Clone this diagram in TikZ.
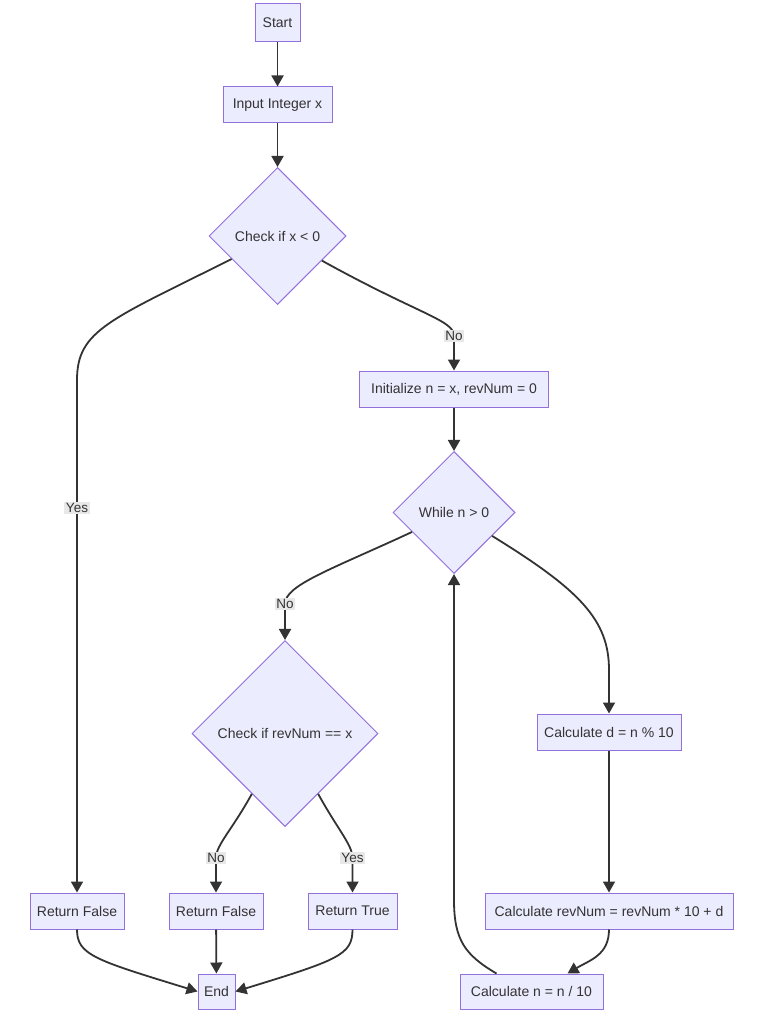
\documentclass[tikz,border=0pt]{standalone}
\usepackage{fontspec}
\setmainfont{Liberation Sans}
\usetikzlibrary{shapes.geometric, arrows.meta}
\definecolor{boxfill}{HTML}{ECECFF}
\definecolor{boxline}{HTML}{9370DB}
\definecolor{linegray}{HTML}{333333}
\definecolor{labelbg}{HTML}{E8E8E8}
\tikzstyle{process} = [
    rectangle, 
    minimum height=36pt, 
    inner xsep=4pt,
    text centered, 
    draw=boxline, 
    fill=boxfill,
    line width=1pt,
    text=linegray,
    font=\fontsize{14}{16}\selectfont
]
\tikzstyle{decision} = [
    diamond, 
    aspect=1,
    inner sep=0pt,
    text centered, 
    draw=boxline, 
    fill=boxfill,
    line width=1pt,
    text=linegray,
    font=\fontsize{14}{16}\selectfont
]
\tikzstyle{arrow} = [
    line width=1.8pt, 
    draw=linegray,
    -{Triangle[length=11pt, width=12pt]}
]
\tikzstyle{edgelabel} = [
    fill=labelbg, 
    text=linegray,
    inner sep=1.5pt,
    font=\fontsize{13.5}{15}\selectfont
]

\begin{document}
\begin{tikzpicture}[x=1pt, y=-1pt]
        \useasboundingbox[fill=white] (0,0) rectangle (768,1016);
        \node (start) [process, minimum width=45pt, minimum height=38pt] at (277.5,23) {Start};
        \node (input) [process, minimum width=109pt] at (277.5,105) {Input Integer x};
        \node (chk) [decision, minimum width=137pt, minimum height=137pt] at (277.5,236) {Check if x < 0};
        \node (init) [process, minimum width=189pt] at (454,389) {Initialize n = x, revNum = 0};
        \node (while) [decision, minimum width=122pt, minimum height=122pt] at (454,512.5) {While n > 0};
        \node (chkrev) [decision, minimum width=186pt, minimum height=186pt] at (285,733.5) {Check if revNum == x};
        \node (calcd) [process, minimum width=144pt] at (609,732) {Calculate d = n \% 10};
        \node (calcrev) [process, minimum width=248pt] at (609,911) {Calculate revNum = revNum * 10 + d};
        \node (calcn) [process, minimum width=143pt, minimum height=35pt] at (531.5,991.5) {Calculate n = n / 10};
        \node (falseA) [process, minimum width=94pt] at (77,911) {Return False};
        \node (falseB) [process, minimum width=94pt] at (216,911) {Return False};
        \node (true) [process, minimum width=89pt] at (352.5,911) {Return True};
        \node (end) [process, minimum width=37pt, minimum height=35pt] at (216.5,991.5) {End};

        \draw[arrow] (start) -- (input);
        \draw[arrow] (input) -- (chk);
        \draw[arrow] (chk) .. controls (110,320) and (77,330) .. (77,380) -- node[edgelabel, pos=0.25] {Yes} (falseA);
        \draw[arrow] (chk) .. controls (420,315) and (454,320) .. (454,336) node[edgelabel] {No} -- (init);
        \draw[arrow] (init) -- (while);
        \draw[arrow] (while) .. controls (330,570) and (285,585) .. (285,604) node[edgelabel] {No} -- (chkrev);
        \draw[arrow] (while) .. controls (580,590) and (609,620) .. (609,670) -- (calcd);
        \draw[arrow] (calcd) -- (calcrev);
        \draw[arrow] (calcrev.south) .. controls (609,955) and (590,960) .. ([xshift=36pt]calcn.north);
        \draw[arrow] ([xshift=-35pt]calcn.north) .. controls (465,955) and (454,940) .. (454,900) -- (while);
        \draw[arrow] (chkrev) .. controls (232,830) and (216,845) .. (216,858) node[edgelabel] {No} -- (falseB);
        \draw[arrow] (chkrev) .. controls (338,830) and (352.5,845) .. (352.5,858) node[edgelabel] {Yes} -- (true);
        \draw[arrow] (falseA) .. controls (77,955) and (95,960) .. (end.west);
        \draw[arrow] (falseB) -- (end);
        \draw[arrow] (true) .. controls (352.5,955) and (338,960) .. (end.east);
    \end{tikzpicture}
\end{document}
